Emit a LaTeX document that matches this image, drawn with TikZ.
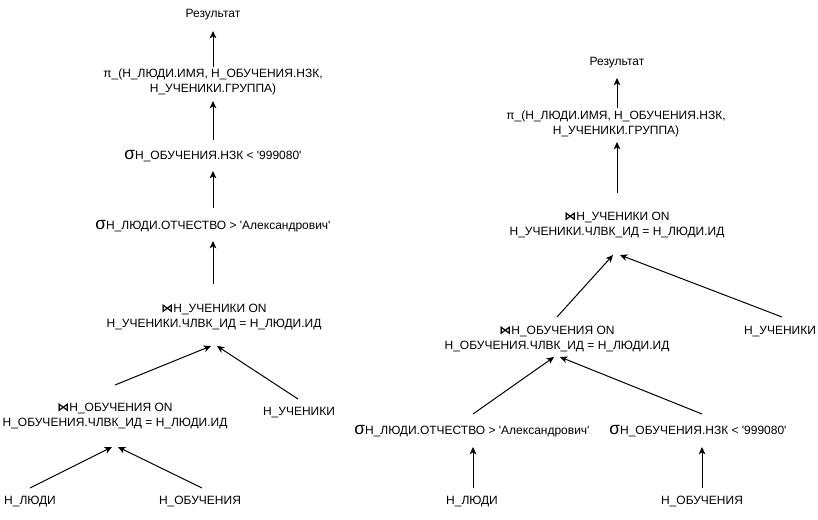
\documentclass[tikz,border=0pt]{standalone}
\usepackage{fontspec}
\setmainfont{Liberation Sans}
\newfontfamily\djvfont{DejaVu Sans}
\usetikzlibrary{arrows.meta,calc}
\newcommand\mysig{{\fontsize{13pt}{13pt}\selectfont σ}}
\newcommand\mybow{{\djvfont\bfseries\fontsize{9pt}{9pt}\selectfont ⋈}}
\newcommand\q{\textquotesingle}
\begin{document}
\begin{tikzpicture}[x=0.75pt,y=-0.75pt,
  lbl/.style={font=\fontsize{9pt}{10.8pt}\selectfont, align=center, inner sep=0pt},
  arr/.style={line width=0.75pt, -{Stealth[length=5.5pt,width=5pt,inset=1.5pt]}}]
\path[use as bounding box] (0,0) rectangle (818,520);
% ---------- left tree ----------
\node[lbl] (res1) at (213,15) {Результат};
\node[lbl] (pi1) at (213,82) {π\_(Н\_ЛЮДИ.ИМЯ, Н\_ОБУЧЕНИЯ.НЗК,\\Н\_УЧЕНИКИ.ГРУППА)};
\node[lbl] (s1a) at (213,156) {\mysig Н\_ОБУЧЕНИЯ.НЗК < \q999080\q};
\node[lbl] (s1b) at (213,226) {\mysig Н\_ЛЮДИ.ОТЧЕСТВО > \q Александрович\q};
\node[lbl] (j1) at (214,317) {\mybow Н\_УЧЕНИКИ ON\\Н\_УЧЕНИКИ.ЧЛВК\_ИД = Н\_ЛЮДИ.ИД};
\node[lbl] (j2) at (115,416) {\mybow Н\_ОБУЧЕНИЯ ON\\Н\_ОБУЧЕНИЯ.ЧЛВК\_ИД = Н\_ЛЮДИ.ИД};
\node[lbl] (uch1) at (299,413) {Н\_УЧЕНИКИ};
\node[lbl] (ludi1) at (30,502) {Н\_ЛЮДИ};
\node[lbl] (obuch1) at (200,502) {Н\_ОБУЧЕНИЯ};
\draw[arr] ($(pi1)+(0,-15)$) -- ($(res1)+(0,16)$);
\draw[arr] ($(s1a)+(0,-16)$) -- ($(pi1)+(0,19)$);
\draw[arr] ($(s1b)+(0,-18)$) -- ($(s1a)+(0,15)$);
\draw[arr] ($(j1)+(-1,-33)$) -- ($(s1b)+(0,15)$);
\draw[arr] ($(j2)+(0,-31)$) -- ($(j1)+(-3,29)$);
\draw[arr] ($(uch1)+(-1,-14)$) -- ($(j1)+(3,29)$);
\draw[arr] ($(ludi1)+(0,-14)$) -- ($(j2)+(-3,31)$);
\draw[arr] ($(obuch1)+(2,-14)$) -- ($(j2)+(3,31)$);
% ---------- right tree ----------
\node[lbl] (res2) at (617,63) {Результат};
\node[lbl] (pi2) at (616,124) {π\_(Н\_ЛЮДИ.ИМЯ, Н\_ОБУЧЕНИЯ.НЗК,\\Н\_УЧЕНИКИ.ГРУППА)};
\node[lbl] (jr1) at (617,225) {\mybow Н\_УЧЕНИКИ ON\\Н\_УЧЕНИКИ.ЧЛВК\_ИД = Н\_ЛЮДИ.ИД};
\node[lbl] (jr2) at (557,339) {\mybow Н\_ОБУЧЕНИЯ ON\\Н\_ОБУЧЕНИЯ.ЧЛВК\_ИД = Н\_ЛЮДИ.ИД};
\node[lbl] (uch2) at (780,332) {Н\_УЧЕНИКИ};
\node[lbl] (s2a) at (472,431) {\mysig Н\_ЛЮДИ.ОТЧЕСТВО > \q Александрович\q};
\node[lbl] (s2b) at (698,431) {\mysig Н\_ОБУЧЕНИЯ.НЗК < \q999080\q};
\node[lbl] (ludi2) at (472,502) {Н\_ЛЮДИ};
\node[lbl] (obuch2) at (702,502) {Н\_ОБУЧЕНИЯ};
\draw[arr] ($(pi2)+(1,-16)$) -- ($(res2)+(0,15)$);
\draw[arr] ($(jr1)+(0,-32)$) -- ($(pi2)+(1,18)$);
\draw[arr] ($(jr2)+(0,-22)$) -- ($(jr1)+(-4,30)$);
\draw[arr] ($(uch2)+(2,-15)$) -- ($(jr1)+(3,30)$);
\draw[arr] ($(s2a)+(1,-17)$) -- ($(jr2)+(-3,18)$);
\draw[arr] ($(s2b)+(4,-17)$) -- ($(jr2)+(3,18)$);
\draw[arr] ($(ludi2)+(1,-14)$) -- ($(s2a)+(1,16)$);
\draw[arr] ($(obuch2)+(0,-14)$) -- ($(s2b)+(4,16)$);
\end{tikzpicture}
\end{document}
